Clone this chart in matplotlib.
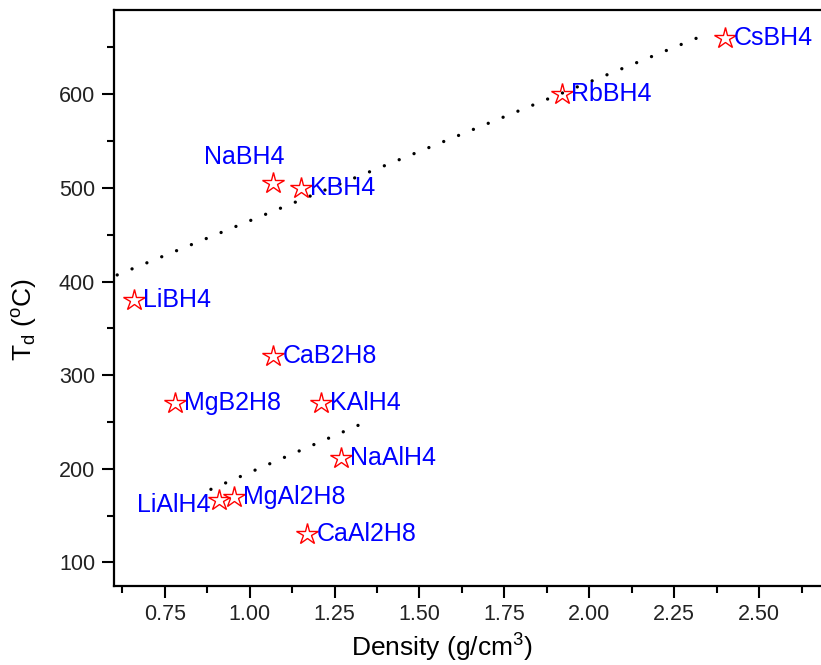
import matplotlib
matplotlib.use("Agg")
import matplotlib.pyplot as plt
from matplotlib.ticker import MultipleLocator, FormatStrFormatter

plt.rcParams['font.family'] = ['Liberation Sans', 'DejaVu Sans']
plt.rcParams['mathtext.default'] = 'regular'

# hydrides: density (g/cm3) vs decomposition temperature Td (C)
compounds = ["LiBH4", "NaBH4", "KBH4", "RbBH4", "CsBH4", "MgB2H8", "CaB2H8",
             "LiAlH4", "NaAlH4", "KAlH4", "MgAl2H8", "CaAl2H8"]
density = [0.66, 1.07, 1.15, 1.92, 2.40, 0.78, 1.07,
           0.91, 1.27, 1.21, 0.955, 1.17]
td = [380, 505, 500, 600, 660, 270, 320,
      167, 211, 270, 170, 130]

# dotted trend lines
bh4_trend_x = [0.61, 2.35]
bh4_trend_y = [407, 665]
alh4_trend_x = [0.886, 1.33]
alh4_trend_y = [178, 248]

# labels that do not sit to the right of their star
label_place = {
    "NaBH4": ((-21, 19), "center"),
    "LiAlH4": ((-6.5, -4), "right"),
}

fig = plt.figure(figsize=(8.21, 6.65), dpi=100)
ax = fig.add_axes([0.1386, 0.1192, 0.8687, 0.8657])

dots = (0, (0.01, 4.8))
ax.plot(bh4_trend_x, bh4_trend_y, linestyle=dots, color="black",
        linewidth=2.4, dash_capstyle="round")
ax.plot(alh4_trend_x, alh4_trend_y, linestyle=dots, color="black",
        linewidth=2.4, dash_capstyle="round")

ax.plot(density, td, linestyle="none", marker="*", markersize=16,
        markerfacecolor="none", markeredgecolor="red", markeredgewidth=1.0)

for name, x, y in zip(compounds, density, td):
    offset, ha = label_place.get(name, ((6.5, 0), "left"))
    ax.annotate(name, (x, y), xytext=offset, textcoords="offset points",
                ha=ha, va="center", color="blue", fontsize=18)

ax.set_xlim(0.6, 2.7)
ax.set_ylim(75, 690)

ax.xaxis.set_major_locator(MultipleLocator(0.25))
ax.xaxis.set_minor_locator(MultipleLocator(0.125))
ax.xaxis.set_major_formatter(FormatStrFormatter("%.2f"))
ax.yaxis.set_major_locator(MultipleLocator(100))
ax.yaxis.set_minor_locator(MultipleLocator(50))

ax.tick_params(which="both", direction="out", width=1.5, colors="black",
               labelsize=15.5, top=False, right=False)
ax.tick_params(which="major", length=8.5, pad=5)
ax.tick_params(which="minor", length=5)
ax.tick_params(axis="both", labelcolor="#222222")

for side in ["left", "bottom", "top", "right"]:
    ax.spines[side].set_linewidth(1.6)

ax.set_xlabel("Density (g/cm$^3$)", fontsize=19, va="center")
ax.xaxis.set_label_coords(0.460, -0.108)
ax.set_ylabel("T$_d$ ($^o$C)", fontsize=19, va="center")
ax.yaxis.set_label_coords(-0.1245, 0.463)

fig.savefig("out.png", dpi=100)
